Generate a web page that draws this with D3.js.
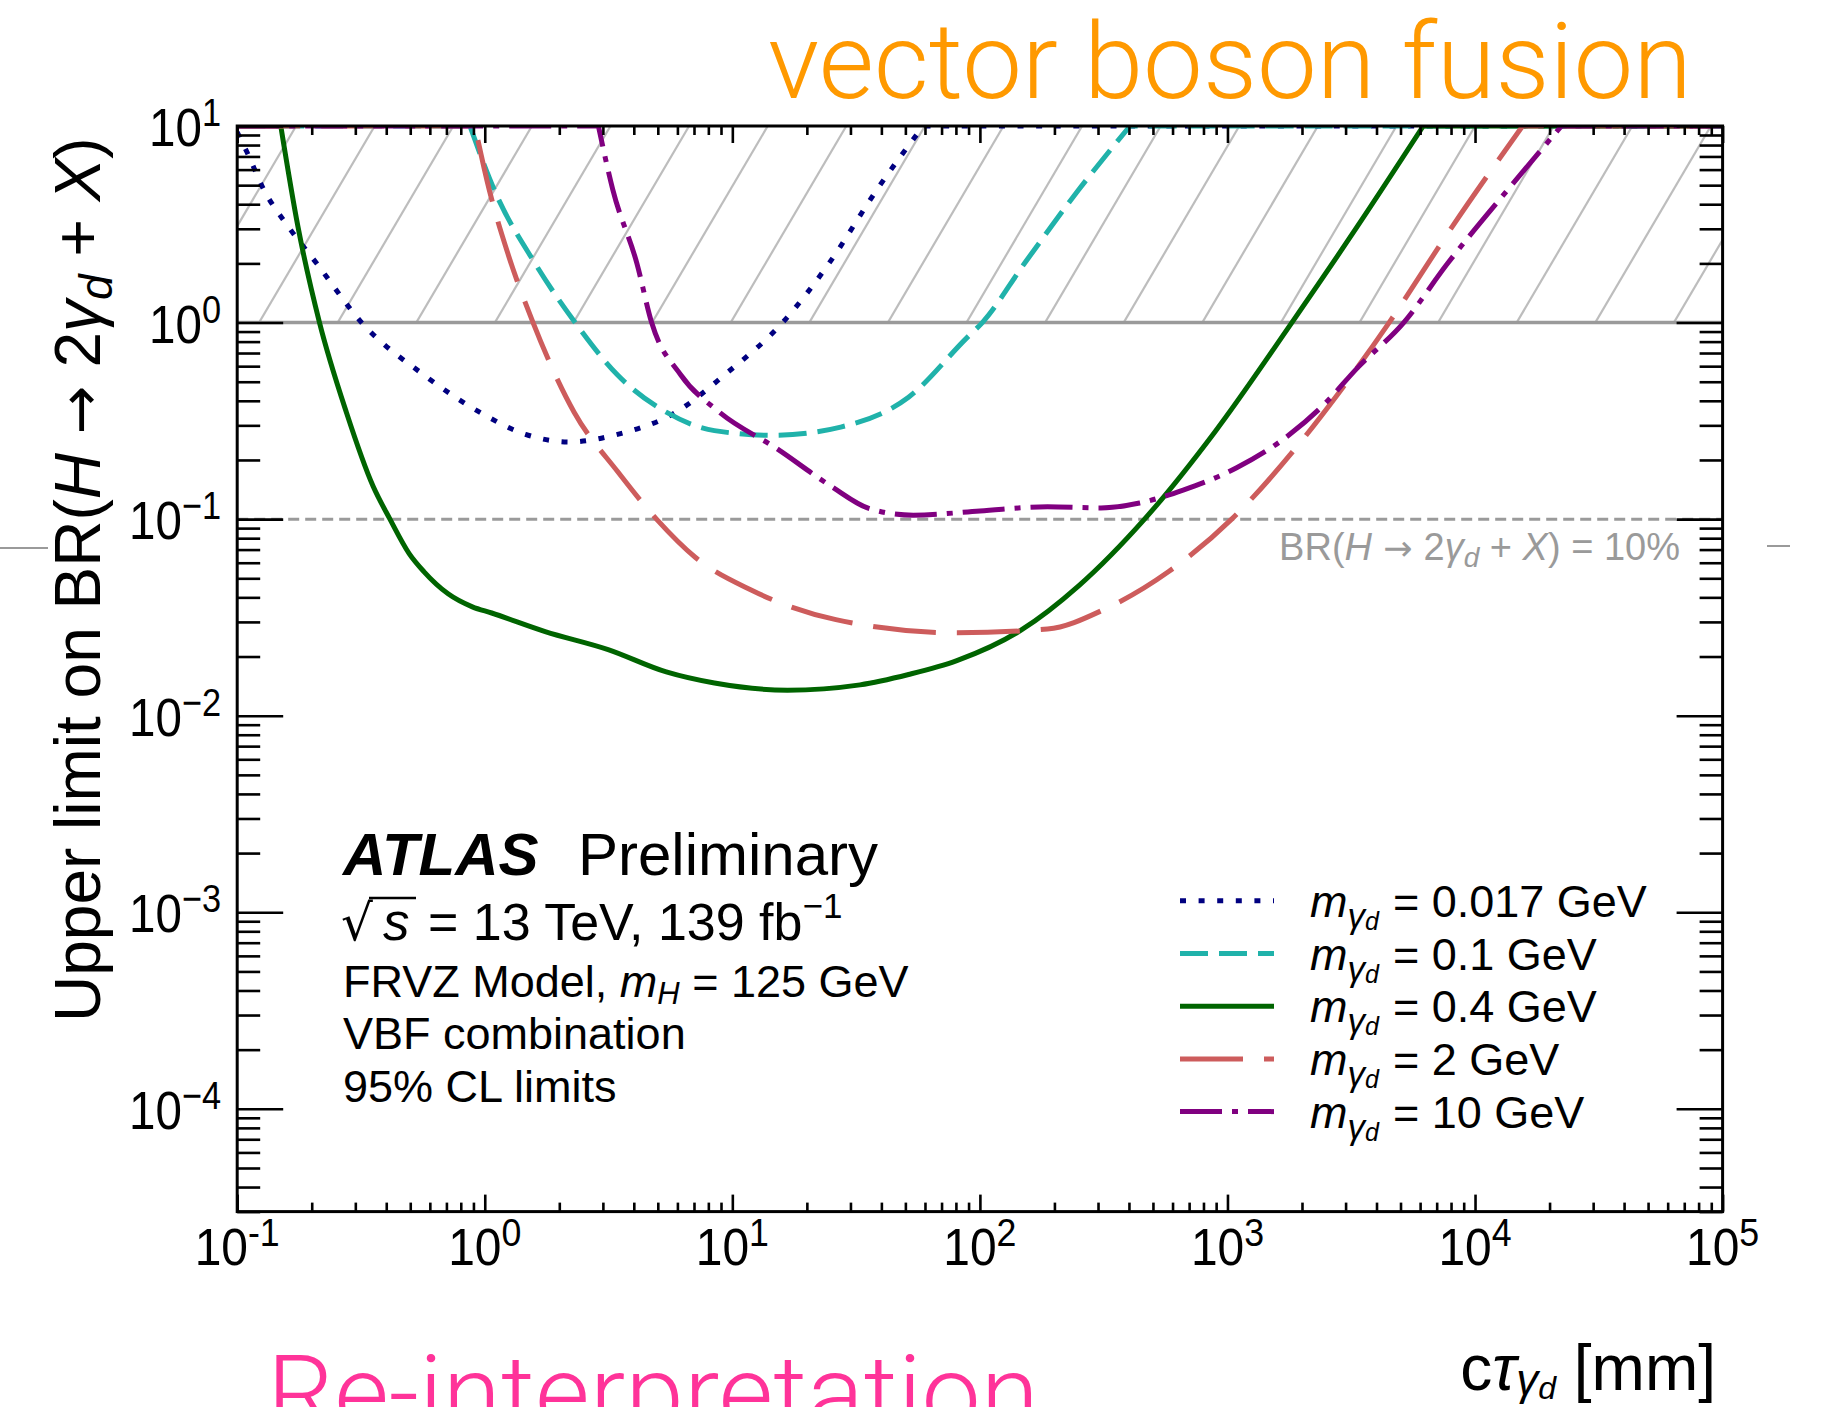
<!DOCTYPE html>
<html>
<head>
<meta charset="utf-8">
<script src="https://cdn.jsdelivr.net/npm/d3@7"></script>
<style>
  body { margin: 0; background: #fff; }
  svg text { font-family: "Liberation Sans", Arial, Helvetica, sans-serif; }
</style>
</head>
<body>
<svg id="chart" width="1823" height="1407"></svg>
<script>
// ---- axis ranges and tick exponents ----
const ctauDomain = [0.1, 1e5];
const brDomain = [3e-5, 10];
const xTickExponents = [-1, 0, 1, 2, 3, 4, 5];
const yTickExponents = [-4, -3, -2, -1, 0, 1];
const excludedBand = [1, 10];     // hatched region: BR above 100%
const referenceBR = 0.1;          // BR = 10% line

// ---- legend labels (dark-photon masses) ----
const massLabels = ["0.017", "0.1", "0.4", "2", "10"];

// ---- expected limits: c*tau [mm] vs upper limit on BR ----
const ctau_m0017 = [0.1, 0.1096, 0.128, 0.1607, 0.210, 0.318, 0.568, 0.953, 1.46, 2.19, 3.44, 5.92, 9.29, 15.96, 24.5, 38.4, 59.0, 1e5];
const br_m0017   = [9.3, 7.35, 4.75, 3.08, 1.99, 1.0, 0.541, 0.350, 0.270, 0.247, 0.270, 0.350, 0.541, 1.0, 1.99, 4.75, 10, 10];

const ctau_m01 = [0.1, 0.871, 1.091, 1.600, 2.317, 3.44, 5.41, 8.47, 14.59, 27.4, 51.5, 88.5, 102.3, 151, 251, 404, 1e5];
const br_m01   = [10, 10, 4.75, 1.99, 1.0, 0.541, 0.350, 0.282, 0.267, 0.294, 0.417, 0.836, 1.0, 1.99, 4.75, 10, 10];

const ctau_m04 = [0.1, 0.150, 0.176, 0.215, 0.276, 0.354, 0.414, 0.495, 0.5675, 0.711, 0.891, 1.067, 1.754, 3.15, 5.41, 8.47, 16.7, 32.8, 51.5, 80.7, 146.6, 251.2, 462.4, 891, 1820, 3311, 6180, 1e5];
const br_m04   = [10, 10, 3.07, 1.0, 0.350, 0.147, 0.1, 0.0668, 0.0541, 0.0417, 0.0358, 0.0333, 0.0268, 0.0217, 0.0167, 0.01466, 0.01349, 0.01435, 0.0162, 0.01905, 0.02723, 0.0459, 0.1, 0.2786, 1.0, 3.02, 10, 10];

const ctau_m2 = [0.1, 0.912, 1.042, 1.236, 1.567, 2.296, 3.44, 4.94, 7.08, 11.91, 26.2, 80.9, 187.5, 322, 579, 1040, 1871, 2805, 4498, 8091, 15560, 1e5];
const br_m2   = [10, 10, 4.75, 2.27, 1.0, 0.350, 0.1746, 0.1, 0.064, 0.0436, 0.0308, 0.0264, 0.0276, 0.035, 0.0541, 0.1, 0.227, 0.436, 1.0, 3.08, 10, 10];

const ctau_m10 = [0.1, 2.877, 3.289, 4.121, 4.721, 6.194, 8.872, 15.24, 25.06, 35.89, 53.83, 100, 187.5, 308.3, 441.6, 662.2, 1089, 1786, 2449, 3357, 5152, 7727, 13580, 22340, 1e5];
const br_m10   = [10, 10, 4.75, 1.99, 1.0, 0.541, 0.350, 0.227, 0.147, 0.113, 0.1047, 0.110, 0.1156, 0.114, 0.1208, 0.1406, 0.1824, 0.270, 0.382, 0.590, 1.0, 1.99, 4.75, 10, 10];

const series = [
  { label: massLabels[0], ctau: ctau_m0017, br: br_m0017, color: "#000080", dash: "6,12.6" },
  { label: massLabels[1], ctau: ctau_m01,   br: br_m01,   color: "#20b2aa", dash: "28,11" },
  { label: massLabels[2], ctau: ctau_m04,   br: br_m04,   color: "#006400", dash: null },
  { label: massLabels[3], ctau: ctau_m2,    br: br_m2,    color: "#cd5c5c", dash: "63,21" },
  { label: massLabels[4], ctau: ctau_m10,   br: br_m10,   color: "#800080", dash: "42,10,6,10" }
];

// ---- layout ----
const svg = d3.select("#chart");
const L = 237.2, R = 1722.6, T = 126, B = 1211.6;
const x = d3.scaleLog().domain(ctauDomain).range([L, R]);
const y = d3.scaleLog().domain(brDomain).range([B, T]);

svg.append("rect").attr("width", 1823).attr("height", 1407).attr("fill", "#fff");

svg.append("defs").append("clipPath").attr("id", "plotClip")
  .append("rect").attr("x", L).attr("y", T).attr("width", R - L).attr("height", B - T);

const plot = svg.append("g").attr("clip-path", "url(#plotClip)");

// hatched excluded band between BR = 1 and BR = 10
const bandTop = y(excludedBand[1]), bandBot = y(excludedBand[0]);
const hatchStep = 78.6, hatchRise = 1.70, hatchStart = L + 21.9;
const hatchG = plot.append("g");
hatchG.append("clipPath").attr("id", "bandClip")
  .append("rect").attr("x", L).attr("y", bandTop).attr("width", R - L).attr("height", bandBot - bandTop);
const hatchLines = d3.range(-3, 22).map(k => hatchStart + k * hatchStep);
hatchG.append("g").attr("clip-path", "url(#bandClip)")
  .selectAll("line").data(hatchLines).join("line")
  .attr("x1", d => d).attr("y1", bandBot)
  .attr("x2", d => d + (bandBot - bandTop) / hatchRise).attr("y2", bandTop)
  .attr("stroke", "#bdbdbd").attr("stroke-width", 2.2);

// BR = 1 boundary
plot.append("line").attr("x1", L).attr("x2", R)
  .attr("y1", y(excludedBand[0])).attr("y2", y(excludedBand[0]))
  .attr("stroke", "#9a9a9a").attr("stroke-width", 3.5);

// BR = 10% reference
plot.append("line").attr("x1", L).attr("x2", R)
  .attr("y1", y(referenceBR)).attr("y2", y(referenceBR))
  .attr("stroke", "#9a9a9a").attr("stroke-width", 3).attr("stroke-dasharray", "11,6");

// limit curves: flat runs clipped at the top are straight, the rest is smoothed
const smooth = d3.line().x(d => x(d[0])).y(d => y(d[1])).curve(d3.curveMonotoneX);
const straight = d3.line().x(d => x(d[0])).y(d => y(d[1]));
const yMax = brDomain[1];
function curvePath(s) {
  const pts = s.ctau.map((c, i) => [c, s.br[i]]);
  let a = 0; while (a + 1 < pts.length && pts[a + 1][1] >= yMax && pts[a][1] >= yMax) a++;
  let b = pts.length - 1; while (b - 1 > 0 && pts[b - 1][1] >= yMax && pts[b][1] >= yMax) b--;
  let d = "";
  if (a > 0) d += straight(pts.slice(0, a + 1));
  const body = smooth(pts.slice(a, b + 1));
  d += (d ? body.replace(/^M/, "L") : body);
  if (b < pts.length - 1) d += straight(pts.slice(b)).replace(/^M/, "L");
  return d;
}
plot.selectAll("path.limit").data(series).join("path")
  .attr("class", "limit")
  .attr("d", curvePath)
  .attr("fill", "none")
  .attr("stroke", d => d.color)
  .attr("stroke-width", 5)
  .attr("stroke-dasharray", d => d.dash);

// ---- frame and ticks ----
const majorX = xTickExponents.map(e => Math.pow(10, e));
const minorX = [];
xTickExponents.slice(0, -1).forEach(e => { for (let k = 2; k <= 9; k++) minorX.push(k * Math.pow(10, e)); });
const majorY = yTickExponents.map(e => Math.pow(10, e));
const minorY = [];
[-5, ...yTickExponents.slice(0, -1)].forEach(e => { for (let k = 2; k <= 9; k++) { const v = k * Math.pow(10, e); if (v >= brDomain[0]) minorY.push(v); } });

function ticks(axisFn, scale, vals, len, tx, ty) {
  const g = svg.append("g").attr("transform", `translate(${tx},${ty})`)
    .call(axisFn(scale).tickValues(vals).tickSize(-len).tickFormat(""));
  g.select(".domain").remove();
  g.selectAll(".tick line").attr("stroke", "#000").attr("stroke-width", 2.6);
}
ticks(d3.axisBottom, x, majorX, 17, 0, B);
ticks(d3.axisBottom, x, minorX, 9, 0, B);
ticks(d3.axisTop, x, majorX, 17, 0, T);
ticks(d3.axisTop, x, minorX, 9, 0, T);
ticks(d3.axisLeft, y, majorY, 46, L, 0);
ticks(d3.axisLeft, y, minorY, 23, L, 0);
ticks(d3.axisRight, y, majorY, 46, R, 0);
ticks(d3.axisRight, y, minorY, 23, R, 0);

svg.append("rect").attr("x", L).attr("y", T).attr("width", R - L).attr("height", B - T)
  .attr("fill", "none").attr("stroke", "#000").attr("stroke-width", 3);

// ---- tick labels ----
const fmtExp = e => (e < 0 ? "\u2212" + (-e) : String(e));
xTickExponents.forEach(e => {
  const g = svg.append("g").attr("transform", `translate(${x(Math.pow(10, e))},1265) scale(0.94,1)`);
  const t = g.append("text").attr("text-anchor", "middle").attr("font-size", 51).attr("fill", "#000");
  t.append("tspan").text("10");
  t.append("tspan").attr("font-size", 38).attr("dy", -19).text(e < 0 ? "-" + (-e) : String(e));
});
yTickExponents.forEach(e => {
  const g = svg.append("g").attr("transform", `translate(221,${y(Math.pow(10, e)) + 20}) scale(0.88,1)`);
  const t = g.append("text").attr("text-anchor", "end").attr("font-size", 54).attr("fill", "#000");
  t.append("tspan").text("10");
  t.append("tspan").attr("font-size", 39).attr("dy", -20).text(fmtExp(e));
});

// ---- axis titles ----
const arrowFont = "'DejaVu Sans', sans-serif";
const yTitle = svg.append("text")
  .attr("transform", "translate(100,1022) rotate(-90)")
  .attr("font-size", 64).attr("fill", "#000");
yTitle.append("tspan").text("Upper limit on BR(");
yTitle.append("tspan").attr("font-style", "italic").text("H");
yTitle.append("tspan").style("font-family", arrowFont).attr("font-size", 58).text(" \u2192 ");
yTitle.append("tspan").text("2");
yTitle.append("tspan").attr("font-style", "italic").text("\u03b3");
yTitle.append("tspan").attr("font-style", "italic").attr("font-size", 46).attr("dy", 12).text("d");
yTitle.append("tspan").attr("dy", -12).text(" + ");
yTitle.append("tspan").attr("font-style", "italic").text("X");
yTitle.append("tspan").text(")");

const xTitle = svg.append("text").attr("x", 1716).attr("y", 1390)
  .attr("text-anchor", "end").attr("font-size", 64).attr("fill", "#000");
xTitle.append("tspan").text("c");
xTitle.append("tspan").attr("font-style", "italic").text("\u03c4");
xTitle.append("tspan").attr("font-style", "italic").attr("font-size", 44).attr("dy", 5).text("\u03b3");
xTitle.append("tspan").attr("font-style", "italic").attr("font-size", 32).attr("dy", 4).text("d");
xTitle.append("tspan").attr("dy", -9).text(" [mm]");

// ---- BR = 10% annotation ----
const ann = svg.append("text").attr("x", 1680).attr("y", 560)
  .attr("text-anchor", "end").attr("font-size", 38).attr("fill", "#9a9a9a");
ann.append("tspan").text("BR(");
ann.append("tspan").attr("font-style", "italic").text("H");
ann.append("tspan").style("font-family", arrowFont).attr("font-size", 35).text(" \u2192 ");
ann.append("tspan").text("2");
ann.append("tspan").attr("font-style", "italic").text("\u03b3");
ann.append("tspan").attr("font-style", "italic").attr("font-size", 28).attr("dy", 7).text("d");
ann.append("tspan").attr("dy", -7).text(" + ");
ann.append("tspan").attr("font-style", "italic").text("X");
ann.append("tspan").text(") = 10%");

// ---- ATLAS label block ----
svg.append("text").attr("x", 343).attr("y", 875).attr("font-size", 60).attr("fill", "#000")
  .attr("font-weight", "bold").attr("font-style", "italic").text("ATLAS");
svg.append("text").attr("x", 578).attr("y", 875).attr("font-size", 60).attr("fill", "#000")
  .text("Preliminary");

svg.append("text").attr("x", 341).attr("y", 940).attr("font-size", 50).attr("fill", "#000")
  .style("font-family", arrowFont).text("\u221a");
svg.append("text").attr("x", 383).attr("y", 940).attr("font-size", 53).attr("fill", "#000")
  .attr("font-style", "italic").text("s");
svg.append("line").attr("x1", 369).attr("x2", 416).attr("y1", 898).attr("y2", 898)
  .attr("stroke", "#000").attr("stroke-width", 2.5);
const energy = svg.append("text").attr("x", 428).attr("y", 940).attr("font-size", 52).attr("fill", "#000");
energy.append("tspan").text("= 13 TeV, 139 fb");
energy.append("tspan").attr("font-size", 35).attr("dy", -22).text("\u22121");

const model = svg.append("text").attr("x", 343).attr("y", 997).attr("font-size", 45).attr("fill", "#000");
model.append("tspan").text("FRVZ Model, ");
model.append("tspan").attr("font-style", "italic").text("m");
model.append("tspan").attr("font-style", "italic").attr("font-size", 31).attr("dy", 7).text("H");
model.append("tspan").attr("dy", -7).text(" = 125 GeV");

svg.append("text").attr("x", 343).attr("y", 1049).attr("font-size", 45).attr("fill", "#000").text("VBF combination");
svg.append("text").attr("x", 343).attr("y", 1102).attr("font-size", 45).attr("fill", "#000").text("95% CL limits");

// ---- legend ----
const legend = svg.append("g");
series.forEach((s, i) => {
  const ry = 900.8 + i * 52.7;
  legend.append("line").attr("x1", 1180).attr("x2", 1274).attr("y1", ry).attr("y2", ry)
    .attr("stroke", s.color).attr("stroke-width", 5).attr("stroke-dasharray", s.dash);
  const t = legend.append("text").attr("x", 1310).attr("y", ry + 16).attr("font-size", 45).attr("fill", "#000");
  t.append("tspan").attr("font-style", "italic").text("m");
  t.append("tspan").attr("font-style", "italic").attr("font-size", 35).attr("dy", 11).text("\u03b3");
  t.append("tspan").attr("font-style", "italic").attr("font-size", 25).attr("dy", 2).text("d");
  t.append("tspan").attr("dy", -13).attr("dx", 14).text("= " + s.label + " GeV");
});

// ---- slide headings ----
svg.append("text").attr("x", 768).attr("y", 98)
  .attr("font-size", 106).attr("fill", "#ff9900")
  .style("font-family", "Roboto, 'Liberation Sans', sans-serif").attr("font-weight", 300)
  .attr("textLength", 924).attr("lengthAdjust", "spacingAndGlyphs")
  .text("vector boson fusion");
svg.append("text").attr("x", 267).attr("y", 1429)
  .attr("font-size", 104).attr("fill", "#ff3399")
  .style("font-family", "Roboto, 'Liberation Sans', sans-serif").attr("font-weight", 300)
  .attr("textLength", 772).attr("lengthAdjust", "spacingAndGlyphs")
  .text("Re-interpretation");

// short marker lines at the page edges
svg.append("line").attr("x1", 0).attr("x2", 48).attr("y1", 548).attr("y2", 548)
  .attr("stroke", "#9a9a9a").attr("stroke-width", 2);
svg.append("line").attr("x1", 1767).attr("x2", 1790).attr("y1", 546).attr("y2", 546)
  .attr("stroke", "#9a9a9a").attr("stroke-width", 2);
</script>
</body>
</html>
